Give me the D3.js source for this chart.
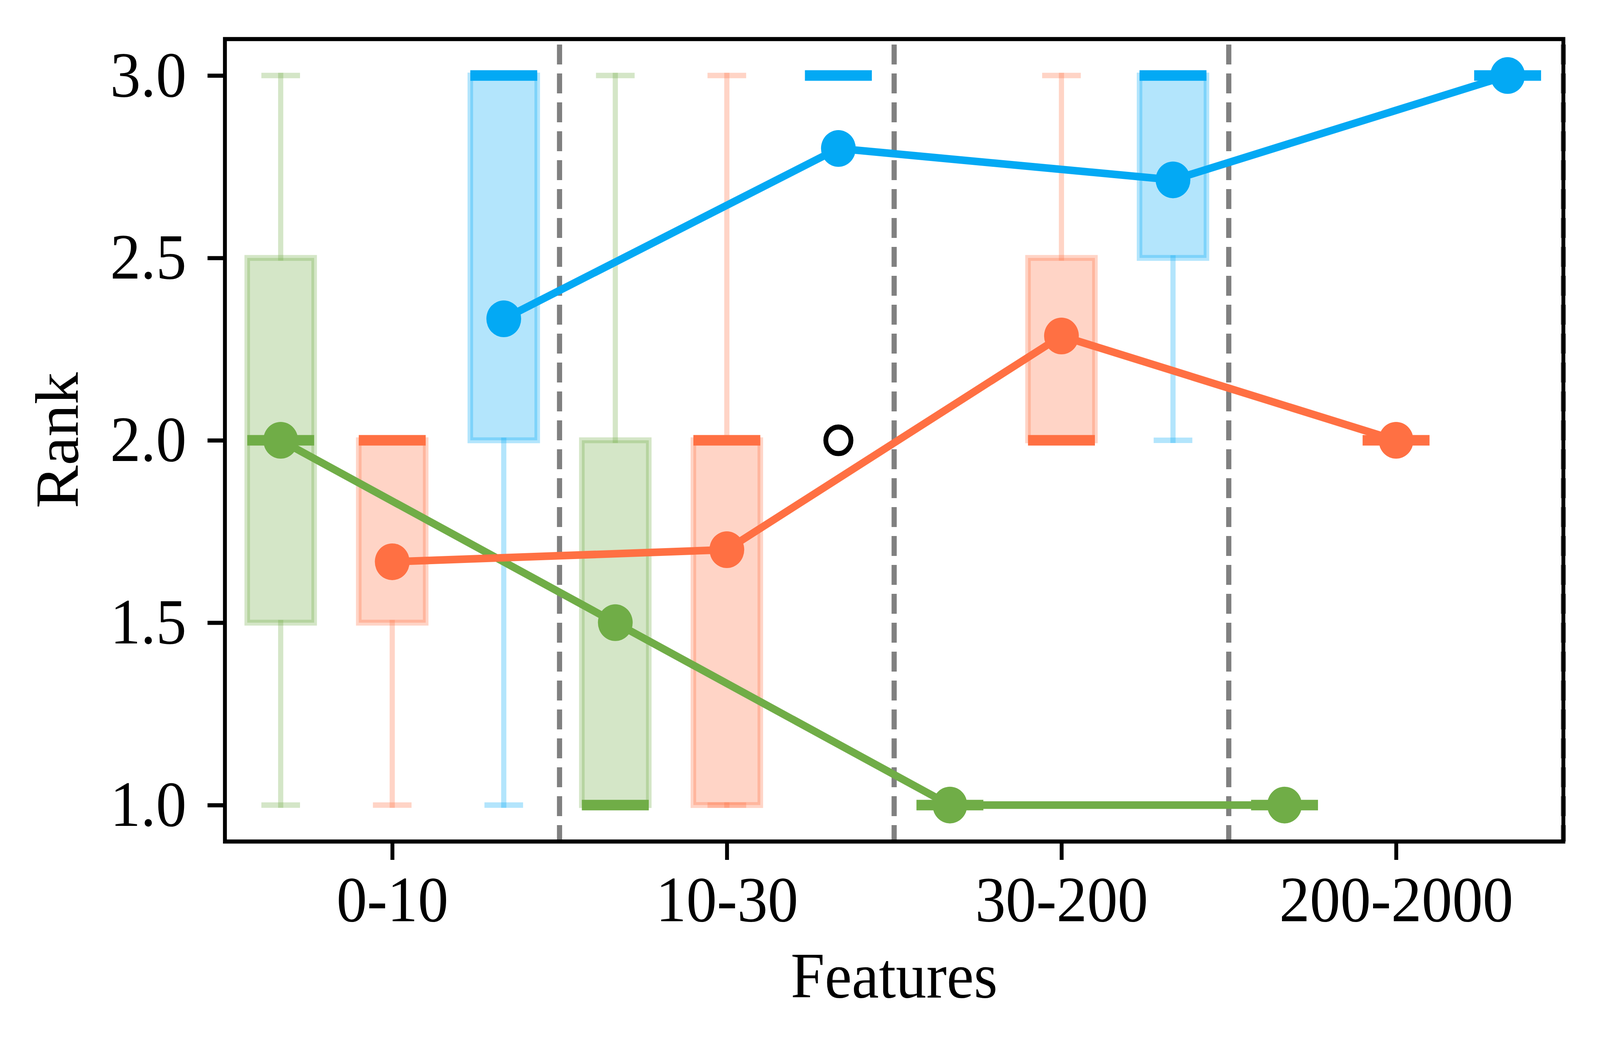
<!DOCTYPE html>
<html>
<head>
<meta charset="utf-8">
<script src="https://cdn.jsdelivr.net/npm/d3@7/dist/d3.min.js"></script>
<style>
  html, body { margin: 0; padding: 0; background: #fff; overflow: hidden; }
  #graph-container { width: 100vw; height: 100vh; }
  #graph-container svg { display: block; width: 100vw; height: 100vh; }
</style>
</head>
<body>
<div id="graph-container"></div>
<script>
const width = 4325, height = 2703;

const categories = ["0-10", "10-30", "30-200", "200-2000"];
const yTicks = [1.0, 1.5, 2.0, 2.5, 3.0];
const seriesColors = ["#70ad47", "#ff7043", "#03a9f4"]; // green, red, blue
const seriesOffsets = [-1 / 3, 0, 1 / 3];

// rows: green, red, blue ; columns: categories
const whiskerLow  = [[1.0, 1.0, 1.0, 1.0], [1.0, 1.0, 2.0, 2.0], [1.0, 3.0, 2.0, 3.0]];
const q1          = [[1.5, 1.0, 1.0, 1.0], [1.5, 1.0, 2.0, 2.0], [2.0, 3.0, 2.5, 3.0]];
const medians     = [[2.0, 1.0, 1.0, 1.0], [2.0, 2.0, 2.0, 2.0], [3.0, 3.0, 3.0, 3.0]];
const q3          = [[2.5, 2.0, 1.0, 1.0], [2.0, 2.0, 2.5, 2.0], [3.0, 3.0, 3.0, 3.0]];
const whiskerHigh = [[3.0, 3.0, 1.0, 1.0], [2.0, 3.0, 3.0, 2.0], [3.0, 3.0, 3.0, 3.0]];
const means       = [[2.0, 1.5, 1.0, 1.0], [1.667, 1.7, 2.286, 2.0], [2.333, 2.8, 2.714, 3.0]];

// fliers
const outlierSeries = [2];
const outlierCategory = [1];
const outlierValue = [2.0];

const margin = {left: 608, right: width - 4226, top: 100, bottom: height - 2154};
const font = "'Liberation Serif', 'Times New Roman', serif";
const fontSize = 165;

const x = d3.scaleLinear()
  .domain([-0.5, categories.length - 0.5])
  .range([margin.left, width - margin.right]);

const y = d3.scaleLinear()
  .domain([0.9, 3.1])
  .range([height - margin.bottom, margin.top]);

const boxW = x(0.2) - x(0);
const capW = boxW / 2;

const svg = d3.create("svg")
  .attr("viewBox", [0, 0, width, height])
  .attr("preserveAspectRatio", "none")
  .style("font-family", font);

svg.append("rect").attr("width", width).attr("height", height).attr("fill", "#fff");

// separators between feature groups
svg.append("g")
  .selectAll("line")
  .data(d3.range(0.5, categories.length, 1))
  .join("line")
  .attr("x1", d => x(d)).attr("x2", d => x(d))
  .attr("y1", y(3.1)).attr("y2", y(0.9))
  .attr("stroke", "#808080")
  .attr("stroke-width", 14)
  .attr("stroke-dasharray", "51 23")
  .attr("stroke-dashoffset", 60);

const boxes = [];
seriesColors.forEach((color, s) => {
  categories.forEach((cat, c) => {
    boxes.push({
      s, c, color,
      lo: whiskerLow[s][c], q1: q1[s][c], med: medians[s][c],
      q3: q3[s][c], hi: whiskerHigh[s][c]
    });
  });
});

const cx = d => x(d.c + seriesOffsets[d.s]);

const bg = svg.append("g").selectAll("g")
  .data(boxes)
  .join("g");

// box body
bg.append("rect")
  .attr("x", d => cx(d) - boxW / 2)
  .attr("y", d => y(d.q3))
  .attr("width", boxW)
  .attr("height", d => y(d.q1) - y(d.q3))
  .attr("fill", d => d.color)
  .attr("fill-opacity", 0.3)
  .attr("stroke", d => d.color)
  .attr("stroke-opacity", 0.3)
  .attr("stroke-width", 15);

// whiskers
bg.selectAll("line.whisker")
  .data(d => [[d, d.q1, d.lo], [d, d.q3, d.hi]])
  .join("line")
  .attr("class", "whisker")
  .attr("x1", ([d]) => cx(d)).attr("x2", ([d]) => cx(d))
  .attr("y1", ([, a]) => y(a)).attr("y2", ([, , b]) => y(b))
  .attr("stroke", ([d]) => d.color)
  .attr("stroke-opacity", 0.3)
  .attr("stroke-width", 14)
  .attr("stroke-linecap", "square");

// caps
bg.selectAll("line.cap")
  .data(d => [[d, d.lo], [d, d.hi]])
  .join("line")
  .attr("class", "cap")
  .attr("x1", ([d]) => cx(d) - capW / 2).attr("x2", ([d]) => cx(d) + capW / 2)
  .attr("y1", ([, v]) => y(v)).attr("y2", ([, v]) => y(v))
  .attr("stroke", ([d]) => d.color)
  .attr("stroke-opacity", 0.3)
  .attr("stroke-width", 14)
  .attr("stroke-linecap", "square");

// medians
bg.append("line")
  .attr("x1", d => cx(d) - boxW / 2).attr("x2", d => cx(d) + boxW / 2)
  .attr("y1", d => y(d.med)).attr("y2", d => y(d.med))
  .attr("stroke", d => d.color)
  .attr("stroke-width", 27);

// fliers
svg.append("g")
  .selectAll("circle")
  .data(outlierValue.map((v, i) => ({s: outlierSeries[i], c: outlierCategory[i], v})))
  .join("circle")
  .attr("cx", d => cx(d))
  .attr("cy", d => y(d.v))
  .attr("r", 34)
  .attr("fill", "none")
  .attr("stroke", "#000")
  .attr("stroke-width", 13);

// mean lines
const line = d3.line()
  .x(d => x(d.c + seriesOffsets[d.s]))
  .y(d => y(d.v));

seriesColors.forEach((color, s) => {
  const pts = means[s].map((v, c) => ({s, c, v}));
  const g = svg.append("g");
  g.append("path")
    .datum(pts)
    .attr("fill", "none")
    .attr("stroke", color)
    .attr("stroke-width", 19.5)
    .attr("d", line);
  g.selectAll("circle")
    .data(pts)
    .join("circle")
    .attr("cx", d => x(d.c + seriesOffsets[d.s]))
    .attr("cy", d => y(d.v))
    .attr("r", 47)
    .attr("fill", color);
});

// axes
const yAxis = svg.append("g")
  .attr("transform", `translate(${margin.left},0)`)
  .call(d3.axisLeft(y).tickValues(yTicks).tickFormat(d3.format(".1f")).tickSize(47).tickPadding(57));

const xAxis = svg.append("g")
  .attr("transform", `translate(0,${height - margin.bottom})`)
  .call(d3.axisBottom(x).tickValues(d3.range(categories.length)).tickFormat(i => categories[i]).tickSize(47).tickPadding(40));

[xAxis, yAxis].forEach(g => {
  g.select(".domain").remove();
  g.selectAll(".tick line").attr("stroke", "#000").attr("stroke-width", 10.5);
  g.selectAll(".tick text")
    .attr("fill", "#000")
    .style("font-family", font)
    .style("font-size", fontSize + "px");
});

// frame
svg.append("rect")
  .attr("x", margin.left)
  .attr("y", margin.top)
  .attr("width", width - margin.left - margin.right)
  .attr("height", height - margin.top - margin.bottom)
  .attr("fill", "none")
  .attr("stroke", "#000")
  .attr("stroke-width", 10.5);

// axis titles
svg.append("text")
  .attr("x", (margin.left + width - margin.right) / 2)
  .attr("y", 2553)
  .attr("text-anchor", "middle")
  .style("font-size", fontSize + "px")
  .text("Features");

svg.append("text")
  .attr("transform", `translate(210,${(margin.top + height - margin.bottom) / 2}) rotate(-90)`)
  .attr("text-anchor", "middle")
  .style("font-size", fontSize + "px")
  .text("Rank");

document.getElementById("graph-container").appendChild(svg.node());
</script>
</body>
</html>
